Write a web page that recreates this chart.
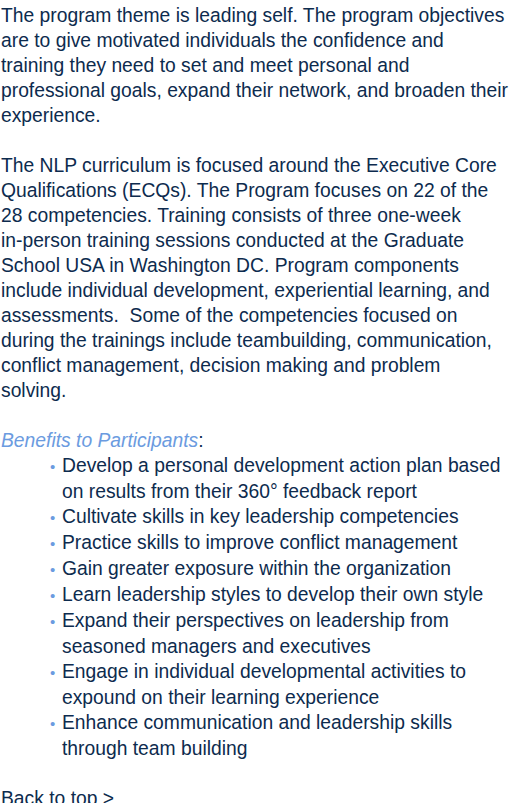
<!DOCTYPE html>
<html>
<head>
<meta charset="utf-8">
<script src="https://cdn.jsdelivr.net/npm/chart.js"></script>
<style>
  body { margin: 0; background: #fff; }
  #page {
    font-family: "Liberation Sans", Arial, sans-serif;
    font-size: 19.3px;
    line-height: 25px;
    color: #0d2b4e;
    padding: 3px 0 0 1px;
    white-space: nowrap;
  }
  p { margin: 0 0 25px 0; }
  .head { color: #6b9be0; font-style: italic; }
  ul { list-style: none; margin: 0 0 25px 0; padding: 0 0 0 61px; }
  li { text-indent: -12px; }
  li::before { content: "\2022"; color: #6b9be0; display: inline-block; width: 12px; text-indent: 0; font-size: 15px; }
</style>
</head>
<body>
<div id="page">
<p>The program theme is leading self. The program objectives<br>
are to give motivated individuals the confidence and<br>
training they need to set and meet personal and<br>
professional goals, expand their network, and broaden their<br>
experience.</p>
<p>The NLP curriculum is focused around the Executive Core<br>
Qualifications (ECQs). The Program focuses on 22 of the<br>
28 competencies. Training consists of three one-week<br>
in-person training sessions conducted at the Graduate<br>
School USA in Washington DC. Program components<br>
include individual development, experiential learning, and<br>
assessments.&nbsp; Some of the competencies focused on<br>
during the trainings include teambuilding, communication,<br>
conflict management, decision making and problem<br>
solving.</p>
<div><span class="head">Benefits to Participants</span>:</div>
<ul>
  <li>Develop a personal development action plan based<br>on results from their 360° feedback report</li>
  <li>Cultivate skills in key leadership competencies</li>
  <li>Practice skills to improve conflict management</li>
  <li>Gain greater exposure within the organization</li>
  <li>Learn leadership styles to develop their own style</li>
  <li>Expand their perspectives on leadership from<br>seasoned managers and executives</li>
  <li>Engage in individual developmental activities to<br>expound on their learning experience</li>
  <li>Enhance communication and leadership skills<br>through team building</li>
</ul>
<div>Back to top &gt;</div>
</div>
</body>
</html>
